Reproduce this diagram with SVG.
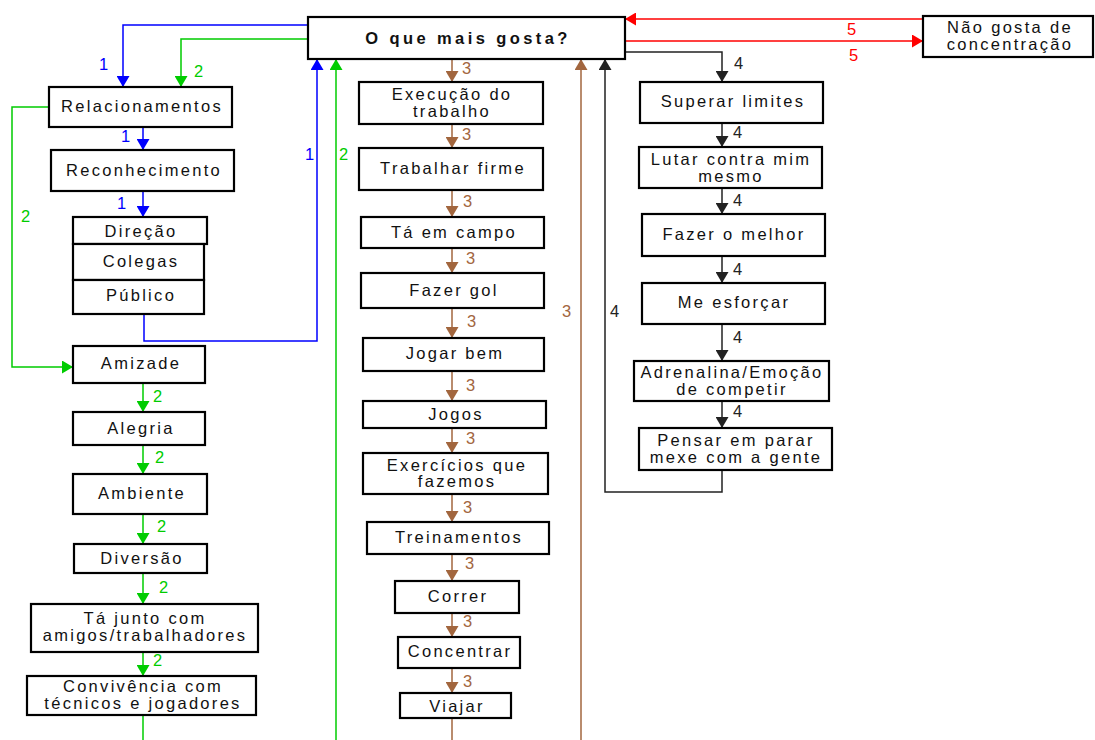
<svg xmlns="http://www.w3.org/2000/svg" width="1095" height="740" viewBox="0 0 1095 740">
  <defs>
    <style>
      .box { fill: #fff; stroke: #000; stroke-width: 2.2; }
      .t { font-family: "Liberation Sans", Arial, sans-serif; font-size: 16.5px; letter-spacing: 2.3px; fill: #111; text-anchor: middle; }
      .title { font-weight: bold; font-size: 16.5px; letter-spacing: 3.4px; }
      .lbl { font-family: "Liberation Sans", Arial, sans-serif; font-size: 16.5px; letter-spacing: 1px; }
      .c { fill: none; stroke-width: 1.5; }
      .blue { stroke: #0000ff; } .lb { fill: #0000ff; }
      .green { stroke: #00cc00; } .lg { fill: #00cc00; }
      .brown { stroke: #a2663e; } .lw { fill: #a2663e; }
      .black { stroke: #222; } .lk { fill: #222; }
      .red { stroke: #ff0000; } .lr { fill: #ff0000; }
    </style>
    <marker id="ab" markerUnits="userSpaceOnUse" markerWidth="13" markerHeight="13" refX="11" refY="6.5" orient="auto"><path d="M0,0 L11,6.5 L0,13 z" fill="#0000ff"/></marker>
    <marker id="ag" markerUnits="userSpaceOnUse" markerWidth="13" markerHeight="13" refX="11" refY="6.5" orient="auto"><path d="M0,0 L11,6.5 L0,13 z" fill="#00cc00"/></marker>
    <marker id="aw" markerUnits="userSpaceOnUse" markerWidth="13" markerHeight="13" refX="11" refY="6.5" orient="auto"><path d="M0,0 L11,6.5 L0,13 z" fill="#a2663e"/></marker>
    <marker id="ak" markerUnits="userSpaceOnUse" markerWidth="13" markerHeight="13" refX="11" refY="6.5" orient="auto"><path d="M0,0 L11,6.5 L0,13 z" fill="#222"/></marker>
    <marker id="ar" markerUnits="userSpaceOnUse" markerWidth="13" markerHeight="13" refX="11" refY="6.5" orient="auto"><path d="M0,0 L11,6.5 L0,13 z" fill="#ff0000"/></marker>
  </defs>
  <rect width="1095" height="740" fill="#fff"/>

  <!-- connectors -->
  <g id="connectors">
    <!-- path 1 (blue) -->
    <path class="c blue" d="M308,25 H123 V87" marker-end="url(#ab)"/>
    <path class="c blue" d="M143,127 V150" marker-end="url(#ab)"/>
    <path class="c blue" d="M143,191 V217" marker-end="url(#ab)"/>
    <path class="c blue" d="M144,314 V341 H317 V59" marker-end="url(#ab)"/>
    <!-- path 2 (green) -->
    <path class="c green" d="M308,39 H181 V87" marker-end="url(#ag)"/>
    <path class="c green" d="M49,107 H12 V367 H73" marker-end="url(#ag)"/>
    <path class="c green" d="M143,383 V412" marker-end="url(#ag)"/>
    <path class="c green" d="M143,445 V474" marker-end="url(#ag)"/>
    <path class="c green" d="M143,514 V544" marker-end="url(#ag)"/>
    <path class="c green" d="M143,573 V604" marker-end="url(#ag)"/>
    <path class="c green" d="M143,652 V676" marker-end="url(#ag)"/>
    <path class="c green" d="M143,715 V740"/>
    <path class="c green" d="M336,740 V59" marker-end="url(#ag)"/>
    <!-- path 3 (brown) -->
    <path class="c brown" d="M452,59 V82" marker-end="url(#aw)"/>
    <path class="c brown" d="M452,124 V148" marker-end="url(#aw)"/>
    <path class="c brown" d="M452,190 V217" marker-end="url(#aw)"/>
    <path class="c brown" d="M452,248 V273" marker-end="url(#aw)"/>
    <path class="c brown" d="M452,308 V338" marker-end="url(#aw)"/>
    <path class="c brown" d="M452,371 V401" marker-end="url(#aw)"/>
    <path class="c brown" d="M452,428 V453" marker-end="url(#aw)"/>
    <path class="c brown" d="M452,494 V522" marker-end="url(#aw)"/>
    <path class="c brown" d="M452,554 V581" marker-end="url(#aw)"/>
    <path class="c brown" d="M452,613 V637" marker-end="url(#aw)"/>
    <path class="c brown" d="M452,668 V693" marker-end="url(#aw)"/>
    <path class="c brown" d="M452,718 V740"/>
    <path class="c brown" d="M581,740 V59" marker-end="url(#aw)"/>
    <!-- path 4 (black) -->
    <path class="c black" d="M625,52 H722 V82" marker-end="url(#ak)"/>
    <path class="c black" d="M722,123 V147" marker-end="url(#ak)"/>
    <path class="c black" d="M722,188 V214" marker-end="url(#ak)"/>
    <path class="c black" d="M722,256 V283" marker-end="url(#ak)"/>
    <path class="c black" d="M722,324 V361" marker-end="url(#ak)"/>
    <path class="c black" d="M722,401 V428" marker-end="url(#ak)"/>
    <path class="c black" d="M722,470 V492 H605 V59" marker-end="url(#ak)"/>
    <!-- path 5 (red) -->
    <path class="c red" d="M923,19 H625" marker-end="url(#ar)"/>
    <path class="c red" d="M625,41 H923" marker-end="url(#ar)"/>

    <!-- connector labels -->
    <g class="lbl lb">
      <text x="99" y="70">1</text>
      <text x="121" y="142">1</text>
      <text x="117" y="209">1</text>
      <text x="305" y="160">1</text>
    </g>
    <g class="lbl lg">
      <text x="194" y="77">2</text>
      <text x="21" y="222">2</text>
      <text x="339" y="160">2</text>
      <text x="153" y="402">2</text>
      <text x="155" y="463">2</text>
      <text x="157" y="532">2</text>
      <text x="159" y="593">2</text>
      <text x="153" y="666">2</text>
    </g>
    <g class="lbl lw">
      <text x="462" y="74">3</text>
      <text x="462" y="140">3</text>
      <text x="463" y="207">3</text>
      <text x="466" y="264">3</text>
      <text x="467" y="327">3</text>
      <text x="466" y="391">3</text>
      <text x="466" y="444">3</text>
      <text x="463" y="513">3</text>
      <text x="465" y="569">3</text>
      <text x="463" y="627">3</text>
      <text x="463" y="687">3</text>
      <text x="562" y="317">3</text>
    </g>
    <g class="lbl lk">
      <text x="734" y="69">4</text>
      <text x="733" y="138">4</text>
      <text x="733" y="206">4</text>
      <text x="733" y="275">4</text>
      <text x="733" y="343">4</text>
      <text x="733" y="417">4</text>
      <text x="610" y="317">4</text>
    </g>
    <g class="lbl lr">
      <text x="847" y="35">5</text>
      <text x="849" y="61">5</text>
    </g>
  </g>

  <!-- central question -->
  <g id="n-main">
    <rect class="box" x="308" y="17" width="317" height="42"/>
    <text class="t title" x="468" y="44">O que mais gosta?</text>
  </g>
  <g id="n-nao-gosta">
    <rect class="box" x="923" y="16" width="170" height="41"/>
    <text class="t" x="1010" y="33">Não gosta de</text>
    <text class="t" x="1010" y="50">concentração</text>
  </g>

  <!-- column 1 -->
  <g id="n-relacionamentos">
    <rect class="box" x="49" y="87" width="183" height="40"/>
    <text class="t" x="142" y="112">Relacionamentos</text>
  </g>
  <g id="n-reconhecimento">
    <rect class="box" x="51" y="150" width="183" height="41"/>
    <text class="t" x="144" y="176">Reconhecimento</text>
  </g>
  <g id="n-direcao">
    <rect class="box" x="73" y="217" width="134" height="27"/>
    <text class="t" x="141" y="237">Direção</text>
  </g>
  <g id="n-colegas">
    <rect class="box" x="73" y="244" width="131" height="36"/>
    <text class="t" x="141" y="267">Colegas</text>
  </g>
  <g id="n-publico">
    <rect class="box" x="73" y="280" width="131" height="34"/>
    <text class="t" x="141" y="301">Público</text>
  </g>
  <g id="n-amizade">
    <rect class="box" x="73" y="346" width="132" height="37"/>
    <text class="t" x="141" y="369">Amizade</text>
  </g>
  <g id="n-alegria">
    <rect class="box" x="73" y="412" width="132" height="33"/>
    <text class="t" x="141" y="434">Alegria</text>
  </g>
  <g id="n-ambiente">
    <rect class="box" x="73" y="474" width="134" height="40"/>
    <text class="t" x="142" y="499">Ambiente</text>
  </g>
  <g id="n-diversao">
    <rect class="box" x="74" y="544" width="133" height="29"/>
    <text class="t" x="142" y="564">Diversão</text>
  </g>
  <g id="n-ta-junto">
    <rect class="box" x="31" y="604" width="227" height="48"/>
    <text class="t" x="145" y="624">Tá junto com</text>
    <text class="t" x="145" y="641">amigos/trabalhadores</text>
  </g>
  <g id="n-convivencia">
    <rect class="box" x="27" y="676" width="229" height="39"/>
    <text class="t" x="143" y="692">Convivência com</text>
    <text class="t" x="143" y="709">técnicos e jogadores</text>
  </g>

  <!-- column 2 -->
  <g id="n-execucao">
    <rect class="box" x="359" y="82" width="184" height="42"/>
    <text class="t" x="452" y="100">Execução do</text>
    <text class="t" x="452" y="117">trabalho</text>
  </g>
  <g id="n-trabalhar">
    <rect class="box" x="359" y="148" width="184" height="42"/>
    <text class="t" x="453" y="174">Trabalhar firme</text>
  </g>
  <g id="n-ta-em-campo">
    <rect class="box" x="361" y="217" width="183" height="31"/>
    <text class="t" x="454" y="238">Tá em campo</text>
  </g>
  <g id="n-fazer-gol">
    <rect class="box" x="361" y="273" width="183" height="35"/>
    <text class="t" x="454" y="296">Fazer gol</text>
  </g>
  <g id="n-jogar-bem">
    <rect class="box" x="363" y="338" width="181" height="33"/>
    <text class="t" x="455" y="359">Jogar bem</text>
  </g>
  <g id="n-jogos">
    <rect class="box" x="363" y="401" width="183" height="27"/>
    <text class="t" x="456" y="420">Jogos</text>
  </g>
  <g id="n-exercicios">
    <rect class="box" x="363" y="453" width="185" height="41"/>
    <text class="t" x="457" y="471">Exercícios que</text>
    <text class="t" x="457" y="487">fazemos</text>
  </g>
  <g id="n-treinamentos">
    <rect class="box" x="367" y="522" width="182" height="32"/>
    <text class="t" x="459" y="543">Treinamentos</text>
  </g>
  <g id="n-correr">
    <rect class="box" x="395" y="581" width="124" height="32"/>
    <text class="t" x="458" y="602">Correr</text>
  </g>
  <g id="n-concentrar">
    <rect class="box" x="398" y="637" width="122" height="31"/>
    <text class="t" x="460" y="657">Concentrar</text>
  </g>
  <g id="n-viajar">
    <rect class="box" x="400" y="693" width="111" height="25"/>
    <text class="t" x="457" y="712">Viajar</text>
  </g>

  <!-- column 3 -->
  <g id="n-superar">
    <rect class="box" x="640" y="82" width="183" height="41"/>
    <text class="t" x="733" y="107">Superar limites</text>
  </g>
  <g id="n-lutar">
    <rect class="box" x="639" y="147" width="183" height="41"/>
    <text class="t" x="731" y="165">Lutar contra mim</text>
    <text class="t" x="731" y="182">mesmo</text>
  </g>
  <g id="n-fazer-melhor">
    <rect class="box" x="642" y="214" width="183" height="42"/>
    <text class="t" x="734" y="240">Fazer o melhor</text>
  </g>
  <g id="n-esforcar">
    <rect class="box" x="642" y="283" width="183" height="41"/>
    <text class="t" x="734" y="308">Me esforçar</text>
  </g>
  <g id="n-adrenalina">
    <rect class="box" x="634" y="361" width="195" height="40"/>
    <text class="t" x="732" y="378">Adrenalina/Emoção</text>
    <text class="t" x="732" y="395">de competir</text>
  </g>
  <g id="n-pensar">
    <rect class="box" x="639" y="428" width="193" height="42"/>
    <text class="t" x="736" y="446">Pensar em parar</text>
    <text class="t" x="736" y="463">mexe com a gente</text>
  </g>
</svg>
